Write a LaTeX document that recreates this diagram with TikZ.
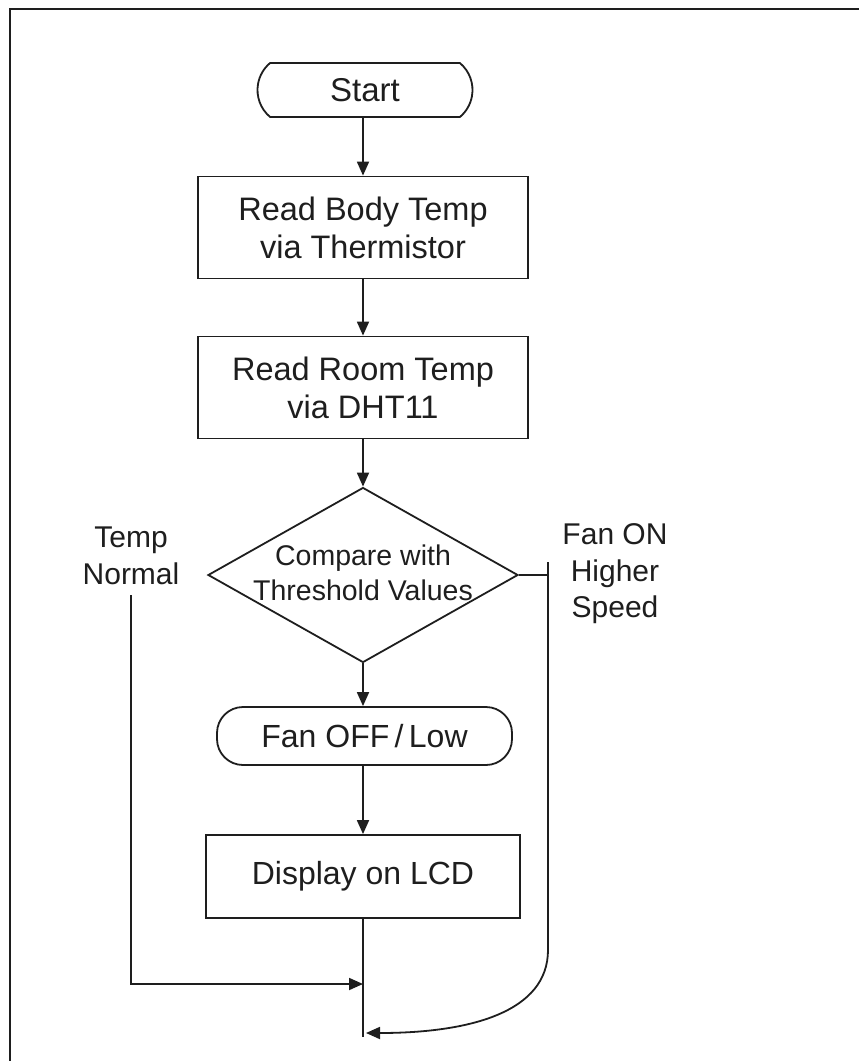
\documentclass[tikz,border=0pt]{standalone}
\usepackage{fontspec}
\setmainfont{Liberation Sans}
\usetikzlibrary{shapes.geometric,shapes.misc,arrows.meta}
\definecolor{ink}{HTML}{1E1E1E}
\begin{document}
\begin{tikzpicture}[x=1pt,y=-1pt,
  line width=1.8pt, draw=ink,
  every node/.style={text=ink},
  proc/.style={draw=ink, line width=1.8pt, rectangle, minimum width=330pt, minimum height=102pt, align=center, font=\fontsize{32.5}{38}\selectfont, inner sep=0pt},
  term/.style={draw=ink, line width=1.8pt, rounded rectangle, rounded rectangle arc length=100, minimum width=215pt, minimum height=54pt, font=\fontsize{33}{38}\selectfont, inner sep=0pt},
  rterm/.style={draw=ink, line width=1.8pt, rectangle, rounded corners=26pt, minimum width=295pt, minimum height=58pt, font=\fontsize{32}{38}\selectfont, inner sep=0pt},
  dia/.style={draw=ink, line width=1.8pt, diamond, minimum width=310pt, minimum height=175pt, inner sep=0pt},
  lbl/.style={align=center, font=\fontsize{30}{36.5}\selectfont, inner sep=0pt},
  arr/.style={draw=ink, line width=1.8pt, -{Triangle[length=14pt,width=12pt]}},
  ln/.style={draw=ink, line width=1.8pt}
]
\useasboundingbox (0,0) rectangle (859,1061);
% outer frame (only left and top edges visible)
\draw[line width=2.6pt, draw=ink] (10,1070) -- (10,9) -- (870,9);

\node[term] (start) at (365,90) {Start};
\node[proc] (b1) at (363,227.5) {Read Body Temp\\via Thermistor};
\node[proc] (b2) at (363,387.5) {Read Room Temp\\via DHT11};
\node[dia] (cmp) at (363,575) {};
\node[align=center, font=\fontsize{28.5}{35}\selectfont, inner sep=0pt] (cmptxt) at (363,573) {Compare with\\Threshold Values};
\node[rterm] (fan) at (364.5,736) {Fan OFF\,/\,Low};
\node[proc, minimum width=314pt, minimum height=83pt, font=\fontsize{32}{38}\selectfont] (lcd) at (363,876.5) {Display on LCD};

\node[lbl] (tn) at (131,556) {Temp\\Normal};
\node[lbl] (fo) at (615,574) {Fan ON\\Higher\\Speed};

\draw[arr] (start.south -| b1.north) -- (b1.north);
\draw[arr] (b1) -- (b2);
\draw[arr] (b2) -- (cmp);
\draw[arr] (cmp.south) -- (fan.north -| cmp.south);
\draw[arr] (fan.south -| lcd.north) -- (lcd.north);

% right branch
\coordinate (rj) at (548,575);
\coordinate (rtop) at (548,562);
\coordinate (rbend) at (548,950);
\coordinate (rend) at (366,1033);
\draw[ln] (cmp.east) -- (rj);
\draw[arr] (rtop) -- (rbend) .. controls (548,1012) and (470,1033) .. (rend);

% bottom stem
\coordinate (stem) at (363,1037);
\draw[ln] (lcd.south) -- (stem);

% left branch
\coordinate (ltop) at (131,595);
\coordinate (lcorner) at (131,984);
\coordinate (lend) at (363,984);
\draw[arr] (ltop) -- (lcorner) -- (lend);
\end{tikzpicture}
\end{document}
